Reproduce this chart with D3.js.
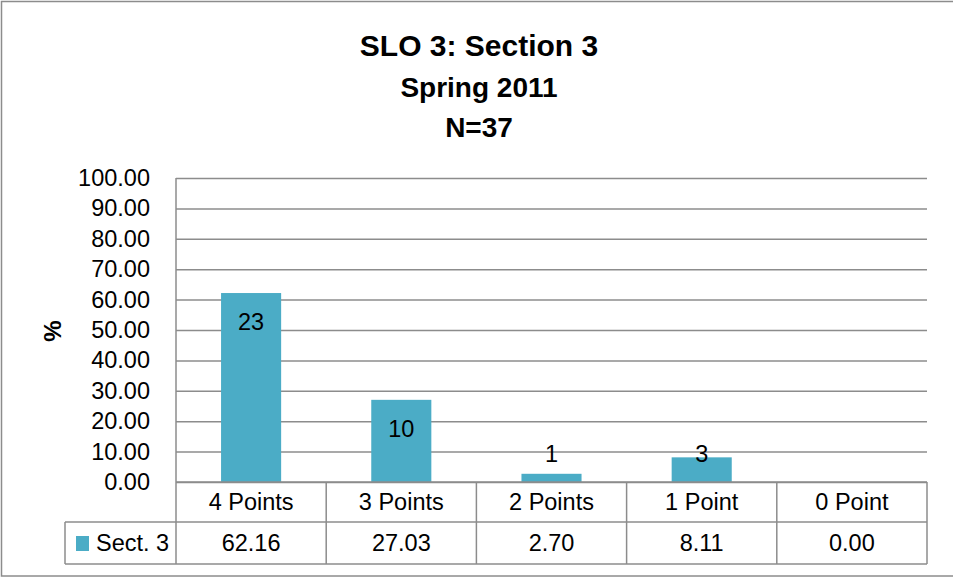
<!DOCTYPE html>
<html>
<head>
<meta charset="utf-8">
<script src="https://cdn.jsdelivr.net/npm/d3@7"></script>
<style>
  body { margin: 0; background: #fff; }
  text { font-family: "Liberation Sans", Arial, sans-serif; fill: #000; }
</style>
</head>
<body>
<div id="figure"></div>
<script>
const width = 953,
      height = 577;

// Data.
const categories = ["4 Points", "3 Points", "2 Points", "1 Point", "0 Point"];
const percents = [62.16, 27.03, 2.70, 8.11, 0.00];
const counts = [23, 10, 1, 3, 0];
const seriesName = "Sect. 3";
const yTicks = [0, 10, 20, 30, 40, 50, 60, 70, 80, 90, 100];
const titleLines = ["SLO 3: Section 3", "Spring 2011", "N=37"];

const barColor = "#4BACC6",
      lineColor = "#8c8c8c";

const plot = {left: 176, right: 927, top: 178, bottom: 482};
const tableRow1 = 522, tableRow2 = 564, legendLeft = 65;

const svg = d3.select("#figure").append("svg")
    .attr("width", width)
    .attr("height", height);

// Outer chart border (right edge runs off the picture).
svg.append("rect")
    .attr("x", 1.5).attr("y", 1.5)
    .attr("width", width + 10).attr("height", height - 2.5)
    .attr("fill", "#fff")
    .attr("stroke", lineColor)
    .attr("stroke-width", 1.5);

// Titles.
svg.append("g")
    .selectAll("text")
    .data(titleLines)
    .join("text")
        .attr("x", 479)
        .attr("y", (d, i) => [55.5, 97, 136.5][i])
        .attr("text-anchor", "middle")
        .attr("font-weight", "bold")
        .attr("font-size", (d, i) => i === 0 ? 30 : 28)
        .text(d => d);

// Scales.
const x = d3.scaleBand()
    .domain(categories)
    .range([plot.left, plot.right]);

const y = d3.scaleLinear()
    .domain([0, 100])
    .range([plot.bottom, plot.top]);

// Y axis with gridlines.
svg.append("g")
    .attr("transform", `translate(${plot.left},0)`)
    .call(d3.axisLeft(y)
        .tickValues(yTicks)
        .tickFormat(d3.format(".2f"))
        .tickSizeInner(-(plot.right - plot.left))
        .tickSizeOuter(0)
        .tickPadding(26))
    .call(g => g.select(".domain").remove())
    .call(g => g.selectAll(".tick line")
        .attr("stroke", lineColor)
        .attr("stroke-width", 1.5))
    .call(g => g.selectAll(".tick text")
        .attr("font-size", 23.5)
        .attr("font-family", "Liberation Sans, Arial, sans-serif")
        .attr("fill", "#000"));

// Y axis title.
svg.append("text")
    .attr("transform", "translate(61,331) rotate(-90)")
    .attr("text-anchor", "middle")
    .attr("font-weight", "bold")
    .attr("font-size", 24)
    .text("%");

// Bars.
const barW = x.bandwidth() * 0.4;
const data = categories.map((c, i) => ({cat: c, pct: percents[i], n: counts[i]}));

svg.append("g")
    .selectAll("rect")
    .data(data)
    .join("rect")
        .attr("x", d => x(d.cat) + (x.bandwidth() - barW) / 2)
        .attr("y", d => y(d.pct))
        .attr("width", barW)
        .attr("height", d => y(0) - y(d.pct))
        .attr("fill", barColor);

// Data labels (counts), inside end, pushed up for short bars.
svg.append("g")
    .selectAll("text")
    .data(data.filter(d => d.n > 0))
    .join("text")
        .attr("x", d => x(d.cat) + x.bandwidth() / 2)
        .attr("y", d => Math.min(y(d.pct) + 29, y(0) - 28))
        .attr("dy", "0.35em")
        .attr("text-anchor", "middle")
        .attr("font-size", 23.5)
        .text(d => d.n);

// Data table lines.
const table = svg.append("g")
    .attr("stroke", lineColor)
    .attr("stroke-width", 1.5);

table.append("line")
    .attr("x1", plot.left).attr("x2", plot.right)
    .attr("y1", plot.bottom).attr("y2", plot.bottom);
table.append("line")
    .attr("x1", legendLeft).attr("x2", plot.right)
    .attr("y1", tableRow1).attr("y2", tableRow1);
table.append("line")
    .attr("x1", legendLeft).attr("x2", plot.right)
    .attr("y1", tableRow2).attr("y2", tableRow2);
table.append("line")
    .attr("x1", legendLeft).attr("x2", legendLeft)
    .attr("y1", tableRow1).attr("y2", tableRow2);
// Left axis line runs through the table.
table.append("line")
    .attr("x1", plot.left).attr("x2", plot.left)
    .attr("y1", plot.top).attr("y2", tableRow2);
table.selectAll("line.col")
    .data(categories)
    .join("line")
        .attr("class", "col")
        .attr("x1", d => x(d) + x.bandwidth())
        .attr("x2", d => x(d) + x.bandwidth())
        .attr("y1", plot.bottom)
        .attr("y2", tableRow2);

// Category labels row.
svg.append("g")
    .selectAll("text")
    .data(categories)
    .join("text")
        .attr("x", d => x(d) + x.bandwidth() / 2)
        .attr("y", (plot.bottom + tableRow1) / 2)
        .attr("dy", "0.35em")
        .attr("text-anchor", "middle")
        .attr("font-size", 23.5)
        .text(d => d);

// Values row.
svg.append("g")
    .selectAll("text")
    .data(data)
    .join("text")
        .attr("x", d => x(d.cat) + x.bandwidth() / 2)
        .attr("y", (tableRow1 + tableRow2) / 2)
        .attr("dy", "0.35em")
        .attr("text-anchor", "middle")
        .attr("font-size", 23.5)
        .text(d => d3.format(".2f")(d.pct));

// Legend key in the table.
svg.append("rect")
    .attr("x", 76).attr("y", 536)
    .attr("width", 13).attr("height", 15)
    .attr("fill", barColor);

svg.append("text")
    .attr("x", 96)
    .attr("y", (tableRow1 + tableRow2) / 2)
    .attr("dy", "0.35em")
    .attr("font-size", 23.5)
    .text(seriesName);
</script>
</body>
</html>
